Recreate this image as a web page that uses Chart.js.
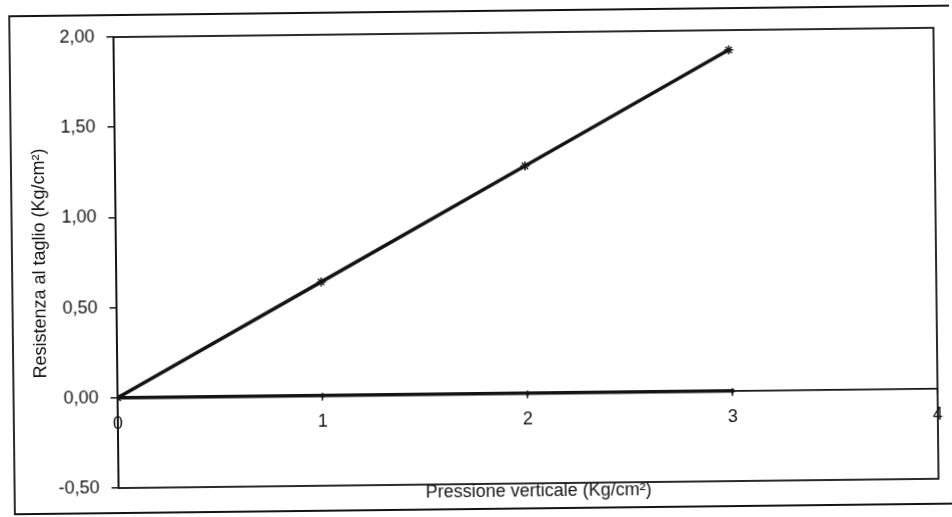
<!DOCTYPE html>
<html>
<head>
<meta charset="utf-8">
<script src="https://cdn.jsdelivr.net/npm/chart.js@4/dist/chart.umd.min.js"></script>
<style>
  html, body { margin: 0; padding: 0; background: #fff; overflow: hidden; }
  #chart { display: block; transform: rotate(-0.65deg); transform-origin: 476px 258px; }
</style>
</head>
<body>
<canvas id="chart" width="952" height="517"></canvas>
<script>
// --- Data ---
const pressione = [0, 1, 2, 3];                 // Kg/cm²
const resistenza = [0, 0.63, 1.26, 1.89];       // Kg/cm²
const coesione = [0, 0, 0, 0];
const yTicks = [-0.5, 0, 0.5, 1, 1.5, 2];
const xTicks = [0, 1, 2, 3, 4];

const INK = '#141414';
const FONT = '"Liberation Sans", Arial, sans-serif';

// Outer frame, plot border and the x title sitting on the bottom edge
const framePlugin = {
    id: 'frame',
    beforeDatasetsDraw(chart) {
        const { ctx, chartArea: a } = chart;
        ctx.save();
        ctx.strokeStyle = INK;
        ctx.lineWidth = 1.8;
        ctx.strokeRect(a.left, a.top, a.right - a.left, a.bottom - a.top);
        ctx.beginPath();
        ctx.moveTo(960, 11);
        ctx.lineTo(12, 11);
        ctx.lineTo(12, 509);
        ctx.lineTo(960, 509);
        ctx.stroke();
        ctx.restore();
    },
    afterDraw(chart) {
        const { ctx } = chart;
        ctx.save();
        ctx.fillStyle = INK;
        ctx.font = '18px ' + FONT;
        ctx.textAlign = 'center';
        ctx.textBaseline = 'middle';
        ctx.fillText('Pressione verticale (Kg/cm²)', 536, 492);
        ctx.restore();
    }
};

const chart = new Chart(document.getElementById('chart'), {
    type: 'scatter',
    data: {
        datasets: [
            {
                label: 'Resistenza al taglio',
                data: pressione.map((x, i) => ({ x, y: resistenza[i] })),
                showLine: true,
                borderColor: INK,
                borderWidth: 3.5,
                pointStyle: 'star',
                pointRadius: 4.5,
                pointBorderWidth: 1.5,
                pointBorderColor: INK,
                pointBackgroundColor: '#fff'
            },
            {
                label: 'Coesione',
                data: pressione.map((x, i) => ({ x, y: coesione[i] })),
                showLine: true,
                borderColor: INK,
                borderWidth: 3.5,
                pointStyle: 'rectRot',
                pointRadius: 2.5,
                pointBorderWidth: 1,
                pointBorderColor: INK,
                pointBackgroundColor: INK
            }
        ]
    },
    options: {
        responsive: false,
        devicePixelRatio: 1,
        animation: false,
        layout: { padding: { left: 0, top: 33, right: 9, bottom: 33 } },
        plugins: {
            legend: { display: false },
            tooltip: { enabled: false }
        },
        scales: {
            x: {
                type: 'linear',
                position: { y: 0 },
                min: 0,
                max: 4,
                afterBuildTicks: (scale) => { scale.ticks = xTicks.map(v => ({ value: v })); },
                grid: { drawOnChartArea: false, drawTicks: true, tickLength: 4, color: INK, lineWidth: 1.5 },
                border: { display: true, color: INK, width: 1.8 },
                ticks: {
                    color: INK,
                    padding: 11,
                    font: { family: FONT, size: 18 },
                    callback: (v) => String(v)
                }
            },
            y: {
                type: 'linear',
                position: 'left',
                min: -0.5,
                max: 2,
                afterBuildTicks: (scale) => { scale.ticks = yTicks.map(v => ({ value: v })); },
                afterFit: (scale) => { scale.width = 116; },
                grid: { drawOnChartArea: false, drawTicks: true, tickLength: 7, color: INK, lineWidth: 1.5 },
                border: { display: true, color: INK, width: 1.8 },
                ticks: {
                    color: INK,
                    padding: 12,
                    font: { family: FONT, size: 18 },
                    callback: (v) => v.toFixed(2).replace('.', ',')
                },
                title: {
                    display: true,
                    text: 'Resistenza al taglio (Kg/cm²)',
                    color: INK,
                    padding: { top: 29, bottom: 0 },
                    font: { family: FONT, size: 18 }
                }
            }
        }
    },
    plugins: [framePlugin]
});
</script>
</body>
</html>
